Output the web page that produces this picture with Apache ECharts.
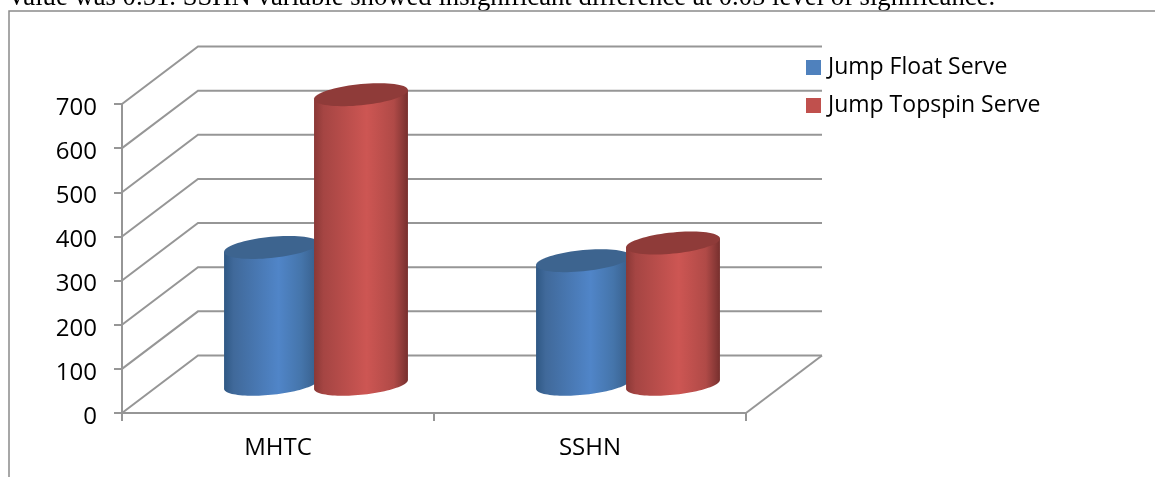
<!DOCTYPE html>
<html>
<head>
<meta charset="utf-8">
<style>html,body{margin:0;padding:0;background:#fff}#chart{width:1155px;height:477px}</style>
<script src="https://cdn.jsdelivr.net/npm/echarts@6/dist/echarts.min.js"></script>
</head>
<body>
<div id="chart"></div>
<script>
// Serve-type comparison, drawn as a 3D-style cylinder chart.
const categories = ['MHTC', 'SSHN'];
const jumpFloat = [310, 280];
const jumpTopspin = [656, 320];
const valueTicks = [0, 100, 200, 300, 400, 500, 600, 700];

// Oblique projection of the chart box: how far the back wall sits from the front plane.
const DEPTH_X = 76;
const DEPTH_Y = 57.5;
const BAR_SHARE = 0.301;     // cylinder width as a share of the category band
const BAR_SPACING = 0.1442;  // centre offset of each cylinder as a share of the band
const CAP_TILT = 4.5;        // vertical skew of the elliptical ends
const CAP_MINOR = 10.6;      // semi-minor axis of the elliptical ends
const LINE = '#969696';
const UI_FONT = '"Open Sans"';

function ellipseArc(cx, cy, a, from, to, steps) {
  const pts = [];
  for (let i = 0; i <= steps; i++) {
    const t = from + (to - from) * i / steps;
    pts.push([cx + a * Math.cos(t), cy - CAP_TILT * Math.cos(t) + CAP_MINOR * Math.sin(t)]);
  }
  return pts;
}

function cylinderRenderer(side, bodyStops, capColor) {
  return function (params, api) {
    const cat = api.value(0);
    const base = api.coord([cat, 0]);
    const top = api.coord([cat, api.value(1)]);
    const band = api.size([1, 0])[0];
    const a = band * BAR_SHARE / 2;
    const cx = base[0] + DEPTH_X / 2 + side * band * BAR_SPACING;
    const by = base[1] - DEPTH_Y / 2;
    const ty = top[1] - DEPTH_Y / 2;
    const body = ellipseArc(cx, by, a, 0, Math.PI, 48)
      .concat(ellipseArc(cx, ty, a, Math.PI, 0, 1));
    return {
      type: 'group',
      children: [
        {
          type: 'polygon',
          shape: { points: body },
          style: {
            fill: { type: 'linear', x: 0, y: 0, x2: 1, y2: 0, colorStops: bodyStops }
          }
        },
        {
          type: 'polygon',
          shape: { points: ellipseArc(cx, ty, a, 0, Math.PI * 2, 72) },
          style: { fill: capColor }
        }
      ]
    };
  };
}

function wallLine(params, api) {
  const sys = params.coordSys;
  const y = api.coord([0, api.value(0)])[1];
  const x0 = sys.x, x1 = sys.x + sys.width;
  const lineStyle = { stroke: LINE, lineWidth: 2, fill: 'none' };
  const children = [{
    type: 'polyline',
    shape: { points: [[x0, y], [x0 + DEPTH_X, y - DEPTH_Y], [x1 + DEPTH_X, y - DEPTH_Y]] },
    style: lineStyle
  }];
  // Floor edge on the right-hand side
  if (api.value(0) === 0) {
    children.push({
      type: 'line',
      shape: { x1: x1, y1: y, x2: x1 + DEPTH_X, y2: y - DEPTH_Y },
      style: lineStyle
    });
  }
  return { type: 'group', children: children };
}

const blueStops = [
  { offset: 0, color: '#2f5884' }, { offset: 0.1, color: '#40699a' },
  { offset: 0.58, color: '#5085c8' }, { offset: 0.82, color: '#4575ab' },
  { offset: 1, color: '#375e8a' }
];
const redStops = [
  { offset: 0, color: '#8a3836' }, { offset: 0.1, color: '#a54543' },
  { offset: 0.56, color: '#cd5653' }, { offset: 0.85, color: '#b04a47' },
  { offset: 0.95, color: '#8a3937' }, { offset: 1, color: '#772f2d' }
];

const chart = echarts.init(document.getElementById('chart'));
chart.setOption({
  animation: false,
  backgroundColor: '#fff',
  textStyle: { fontFamily: UI_FONT },
  grid: { left: 122, top: 104, width: 624, height: 309, containLabel: false },
  xAxis: {
    type: 'category',
    data: categories,
    axisLine: { lineStyle: { color: LINE, width: 2 } },
    axisTick: { show: true, length: 8, lineStyle: { color: LINE, width: 2 } },
    axisLabel: { color: '#000', fontSize: 24, margin: 23, fontFamily: UI_FONT }
  },
  yAxis: {
    type: 'value',
    min: 0,
    max: 700,
    interval: 100,
    splitLine: { show: false },
    axisLine: { show: true, lineStyle: { color: LINE, width: 2 } },
    axisTick: { show: true, length: 8, lineStyle: { color: LINE, width: 2 } },
    axisLabel: {
      color: '#000', fontSize: 24, margin: 25, fontFamily: UI_FONT,
      verticalAlign: 'top', padding: [-8, 0, 0, 0]
    }
  },
  legend: {
    orient: 'vertical',
    left: 801,
    top: 51,
    itemWidth: 15,
    itemHeight: 15,
    itemGap: 15,
    icon: 'rect',
    data: ['Jump Float Serve', 'Jump Topspin Serve'],
    textStyle: { color: '#000', fontSize: 23, fontFamily: UI_FONT, padding: [0, 0, 0, 2] }
  },
  graphic: [
    {
      type: 'text',
      left: 7,
      top: -16,
      style: {
        text: 'Value was 0.51. SSHN variable showed insignificant difference at 0.05 level of significance.',
        font: '26.7px "Liberation Serif"',
        fill: '#000'
      }
    },
    {
      type: 'polyline',
      shape: { points: [[9, 477], [9, 11], [1155, 11]] },
      style: { stroke: '#8a8a8a', lineWidth: 1.5, fill: 'none' }
    }
  ],
  series: [
    {
      type: 'custom',
      name: 'walls',
      silent: true,
      data: valueTicks.map(v => [v]),
      encode: { y: 0 },
      renderItem: wallLine
    },
    {
      type: 'custom',
      name: 'Jump Float Serve',
      itemStyle: { color: '#4f81bd' },
      data: jumpFloat.map((v, i) => [i, v]),
      encode: { x: 0, y: 1 },
      renderItem: cylinderRenderer(-1, blueStops, '#3d648f')
    },
    {
      type: 'custom',
      name: 'Jump Topspin Serve',
      itemStyle: { color: '#c0504d' },
      data: jumpTopspin.map((v, i) => [i, v]),
      encode: { x: 0, y: 1 },
      renderItem: cylinderRenderer(1, redStops, '#8f3b39')
    }
  ]
});
</script>
</body>
</html>
